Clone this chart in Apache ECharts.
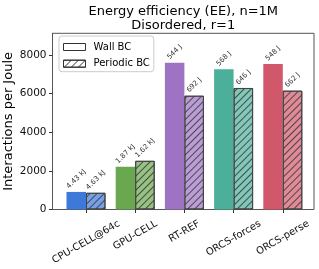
<!DOCTYPE html>
<html>
<head>
<meta charset="utf-8">
<script src="https://cdn.jsdelivr.net/npm/echarts@6/dist/echarts.min.js"></script>
<style>html,body{margin:0;padding:0;background:#fff}#c{width:319px;height:269px}</style>
</head>
<body>
<div id="c"></div>
<script>
const categories = ['CPU-CELL@64c', 'GPU-CELL', 'RT-REF', 'ORCS-forces', 'ORCS-perse'];
const seriesNames = ['Wall BC', 'Periodic BC'];
const wallValues = [910, 2210, 7600, 7260, 7530];
const periodicValues = [865, 2520, 5890, 6290, 6150];
const wallLabels = ['4.43 kJ', '1.87 kJ', '544 J', '568 J', '548 J'];
const periodicLabels = ['4.63 kJ', '1.62 kJ', '692 J', '646 J', '662 J'];
const barColors = ['#3d79d8', '#6aa84f', '#9e73c4', '#4caf99', '#d0586a'];
const yMin = 0, yMax = 9120, yInterval = 2000;
const titleText = 'Energy efficiency (EE), n=1M\nDisordered, r=1';
const yAxisName = 'Interactions per Joule';

const FONT = 'DejaVu Sans';
const mctx = document.createElement('canvas').getContext('2d');
function textW(s, size) { mctx.font = size + 'px "' + FONT + '"'; return mctx.measureText(s).width; }
function lighten(hex, a) {
  const n = parseInt(hex.slice(1), 16);
  const r = (n >> 16) & 255, g = (n >> 8) & 255, b = n & 255;
  const f = c => Math.round(c * a + 255 * (1 - a));
  return 'rgb(' + f(r) + ',' + f(g) + ',' + f(b) + ')';
}

// plot frame geometry
const plotL = 52.5, plotT = 33.3, plotW = 261.5, plotH = 176.2;
const bandStep = 49.2;
const firstTick = 86;
const catL = firstTick - bandStep / 2;

const hatch = {
  symbol: 'rect', symbolSize: 1,
  dashArrayX: [1, 0], dashArrayY: [1, 4],
  rotation: -Math.PI / 4,
  color: 'rgba(40,40,40,0.75)'
};

const LBL_FS = 7;
function barLabelItem(v, txt) {
  const L = textW(txt, LBL_FS);
  const H = (L + LBL_FS * 1.16) * 0.7071;
  return { value: v, label: { formatter: txt, distance: 1.5 + H / 2 } };
}

// x tick labels: rotated 30deg, bbox centred on tick, bbox top at a fixed line
const XFS = 10;
const xData = categories.map(c => {
  const L = textW(c, XFS);
  const H = L * 0.5 + XFS * 1.16 * 0.866;
  const dy = H / 2;
  const v = 0.866 * dy;   // local downward offset of text centre
  return {
    value: c,
    textStyle: {
      align: 'center', verticalAlign: 'top',
      fontFamily: FONT, fontSize: XFS, color: '#111',
      lineHeight: 2 * v,
      padding: [0, dy, 0, 0]
    }
  };
});

const chart = echarts.init(document.getElementById('c'), null, { renderer: 'canvas' });
chart.setOption({
  animation: false,
  backgroundColor: '#fff',
  title: {
    text: titleText,
    left: plotL + plotW / 2, top: 4, padding: 0, textAlign: 'center',
    textStyle: { fontFamily: FONT, fontSize: 13, fontWeight: 'normal', color: '#000', lineHeight: 14.5 }
  },
  legend: {
    orient: 'vertical', left: 59, top: 36,
    itemWidth: 22, itemHeight: 7, itemGap: 6.7,
    padding: [6, 4, 3, 4],
    borderColor: '#ccc', borderWidth: 1, borderRadius: 3,
    backgroundColor: 'rgba(255,255,255,0.8)',
    icon: 'rect',
    textStyle: { fontFamily: FONT, fontSize: 10, color: '#000', padding: [0, 0, 0, 3] },
    data: [
      { name: seriesNames[0], itemStyle: { color: '#fff', borderColor: '#333', borderWidth: 1 } },
      { name: seriesNames[1], itemStyle: { color: '#fff', borderColor: '#333', borderWidth: 1 } }
    ]
  },
  grid: [
    { left: plotL, top: plotT, width: plotW, height: plotH, show: true, borderColor: '#555', borderWidth: 1,
      backgroundColor: 'transparent', containLabel: false, outerBoundsMode: 'none' },
    { left: catL, top: plotT, width: bandStep * categories.length, height: plotH,
      containLabel: false, outerBoundsMode: 'none' }
  ],
  xAxis: [
    { gridIndex: 0, type: 'value', show: false, min: 0, max: 1 },
    {
      gridIndex: 1, type: 'category', data: xData,
      axisLine: { show: false },
      axisTick: { show: true, alignWithLabel: true, length: 3.5, lineStyle: { color: '#333' } },
      axisLabel: {
        rotate: 30, interval: 0, margin: 8.5, align: 'center', verticalAlign: 'top',
        fontFamily: FONT, fontSize: XFS, color: '#111', hideOverlap: false
      }
    }
  ],
  yAxis: [
    {
      gridIndex: 0, type: 'value', min: yMin, max: yMax, interval: yInterval,
      name: yAxisName, nameLocation: 'middle', nameGap: 37, nameMoveOverlap: false,
      nameTextStyle: { fontFamily: FONT, fontSize: 13, color: '#000' },
      axisLine: { show: true, lineStyle: { color: '#555' } },
      axisTick: { show: true, length: 3.5, lineStyle: { color: '#333' } },
      axisLabel: { fontFamily: FONT, fontSize: 10.5, color: '#111', margin: 6, showMaxLabel: false,
        formatter: v => String(v) },
      splitLine: { show: false }
    },
    { gridIndex: 1, type: 'value', min: yMin, max: yMax, show: false, splitLine: { show: false } }
  ],
  series: [
    {
      name: seriesNames[0], type: 'bar', xAxisIndex: 1, yAxisIndex: 1,
      barWidth: 19.5, barGap: '0%',
      data: wallValues.map((v, i) => {
        const it = barLabelItem(v, wallLabels[i]);
        it.itemStyle = { color: barColors[i] };
        return it;
      }),
      label: { show: true, position: 'top', rotate: 45, align: 'center', verticalAlign: 'middle', fontFamily: FONT, fontSize: LBL_FS, color: '#333' }
    },
    {
      name: seriesNames[1], type: 'bar', xAxisIndex: 1, yAxisIndex: 1,
      barWidth: 19.5, barGap: '0%',
      itemStyle: { borderColor: '#444', borderWidth: 1, decal: hatch },
      data: periodicValues.map((v, i) => {
        const it = barLabelItem(v, periodicLabels[i]);
        it.itemStyle = { color: lighten(barColors[i], 0.7), borderColor: '#444', borderWidth: 1 };
        return it;
      }),
      label: { show: true, position: 'top', rotate: 45, align: 'center', verticalAlign: 'middle', fontFamily: FONT, fontSize: LBL_FS, color: '#333' }
    }
  ]
});
</script>
</body>
</html>
